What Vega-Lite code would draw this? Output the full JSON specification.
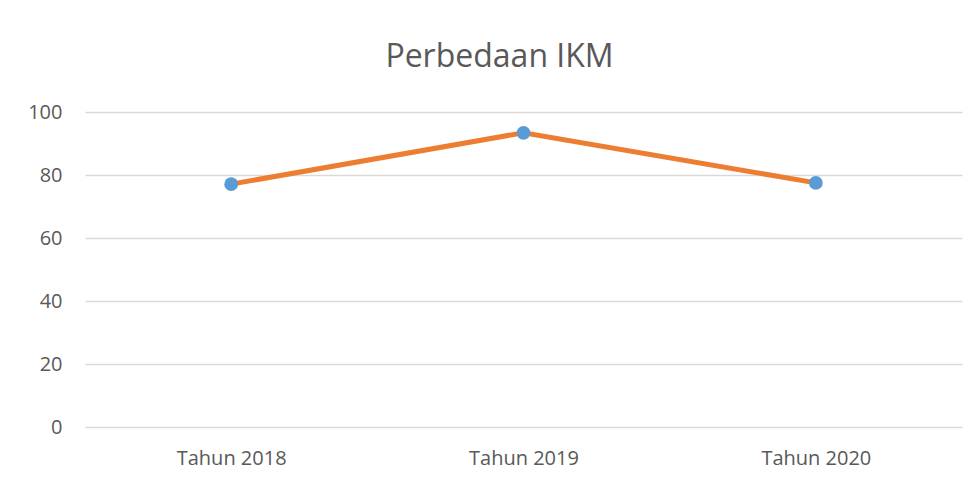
{
  "$schema": "https://vega.github.io/schema/vega-lite/v6.json",
  "autosize": "none",
  "width": 877,
  "height": 315,
  "padding": {"left": 85, "top": 112, "right": 15, "bottom": 56},
  "background": "white",
  "title": {
    "text": "Perbedaan IKM",
    "anchor": "middle",
    "dx": -24,
    "offset": 28,
    "font": "Open Sans",
    "fontSize": 32,
    "fontWeight": "normal",
    "color": "#595959"
  },
  "config": {
    "view": {"stroke": null},
    "axis": {
      "labelFont": "Open Sans",
      "labelFontSize": 20,
      "labelColor": "#595959",
      "gridColor": "#d9d9d9",
      "gridWidth": 1.3
    }
  },
  "data": {
    "values": [
      {"tahun": "Tahun 2018", "ikm": 77.1},
      {"tahun": "Tahun 2019", "ikm": 93.4},
      {"tahun": "Tahun 2020", "ikm": 77.5}
    ]
  },
  "encoding": {
    "x": {
      "field": "tahun",
      "type": "nominal",
      "sort": null,
      "scale": {"paddingInner": 0, "paddingOuter": 0},
      "axis": {"title": null, "labelAngle": 0, "ticks": false, "domain": false, "grid": false, "labelPadding": 21}
    },
    "y": {
      "field": "ikm",
      "type": "quantitative",
      "scale": {"domain": [0, 100]},
      "axis": {"title": null, "values": [0, 20, 40, 60, 80, 100], "ticks": false, "domain": false, "labelPadding": 23}
    }
  },
  "layer": [
    {"mark": {"type": "line", "color": "#ED7D31", "strokeWidth": 5}},
    {"mark": {"type": "point", "filled": true, "opacity": 1, "color": "#5B9BD5", "size": 190}}
  ]
}
